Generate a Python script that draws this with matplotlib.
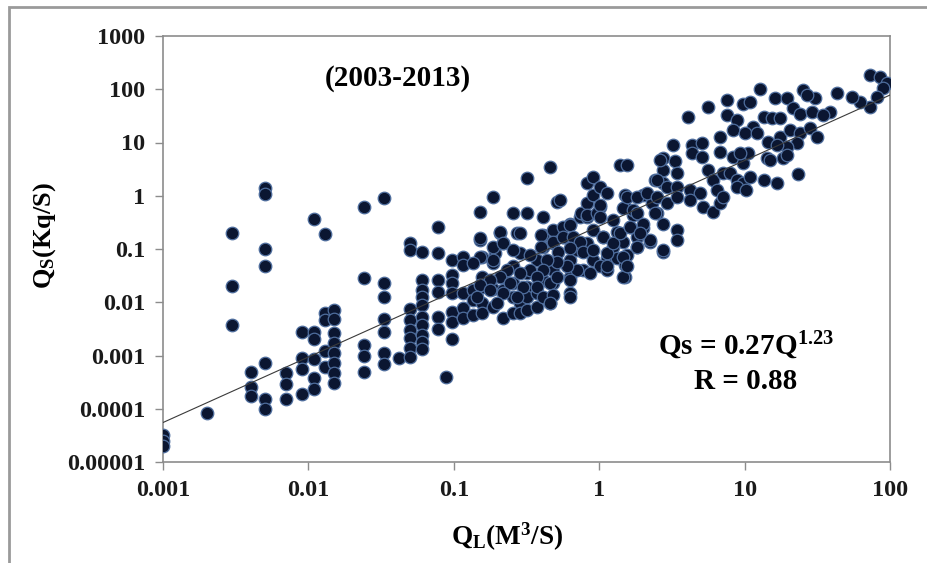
import matplotlib

matplotlib.use("Agg")
import matplotlib.pyplot as plt
import numpy as np
from matplotlib.patches import Rectangle

# sediment rating data, 2003-2013: liquid discharge Q_L (m3/s) vs solid discharge Q_S
qL_low = [0.001, 0.001, 0.001, 0.002, 0.003, 0.003, 0.003, 0.004, 0.004, 0.004,
          0.005, 0.005, 0.005, 0.005, 0.005, 0.005, 0.005, 0.007, 0.007, 0.007,
          0.009, 0.009, 0.009, 0.009, 0.011, 0.011, 0.011, 0.011, 0.011, 0.011,
          0.013, 0.013, 0.013, 0.013, 0.013,
          0.015, 0.015, 0.015, 0.015, 0.015, 0.015, 0.015, 0.015,
          0.024, 0.024, 0.024, 0.024, 0.024,
          0.033, 0.033, 0.033, 0.033, 0.033, 0.033, 0.033, 0.042,
          0.05, 0.05, 0.05, 0.05, 0.05, 0.05, 0.05, 0.05,
          0.06, 0.06, 0.06, 0.06, 0.06, 0.06, 0.06, 0.06, 0.06, 0.06,
          0.078, 0.078, 0.078, 0.078, 0.078, 0.078, 0.089,
          0.097, 0.097, 0.097, 0.097, 0.097, 0.097, 0.097]
qS_low = [3.2e-5, 2.5e-5, 2.0e-5, 8.2e-5, 0.2, 0.02, 0.0037, 5e-4, 2.6e-4, 1.7e-4,
          1.4, 1.1, 0.1, 0.048, 7.3e-4, 1.5e-4, 1.0e-4, 4.6e-4, 2.9e-4, 1.5e-4,
          0.0028, 8.9e-4, 5.5e-4, 1.9e-4, 0.36, 0.0028, 0.002, 8.5e-4, 3.8e-4, 2.4e-4,
          0.19, 0.0062, 0.0047, 0.0012, 6e-4,
          0.0071, 0.0048, 0.0027, 0.0017, 0.0011, 7.1e-4, 4.6e-4, 3e-4,
          0.62, 0.029, 0.0016, 0.001, 5e-4,
          0.89, 0.023, 0.0127, 0.0048, 0.0028, 0.0011, 6.9e-4, 8.9e-4,
          0.13, 0.096, 0.0074, 0.0046, 0.003, 0.0021, 0.0014, 9.5e-4,
          0.089, 0.026, 0.017, 0.0127, 0.0089, 0.0054, 0.0037, 0.0024, 0.0018, 0.0013,
          0.26, 0.083, 0.026, 0.0158, 0.0054, 0.0032, 4e-4,
          0.062, 0.033, 0.023, 0.0147, 0.0067, 0.0043, 0.002]

qL_mid = [0.116, 0.116, 0.116, 0.116, 0.116, 0.136, 0.136, 0.136, 0.151, 0.151,
          0.156, 0.156, 0.156, 0.156, 0.156, 0.187, 0.187, 0.187, 0.187, 0.192,
          0.208, 0.219, 0.219, 0.219, 0.219, 0.257, 0.257, 0.257, 0.257, 0.257,
          0.271, 0.285, 0.285, 0.285, 0.317, 0.317, 0.317, 0.317, 0.317, 0.317,
          0.372, 0.372, 0.372, 0.413, 0.413, 0.413, 0.413, 0.459, 0.459,
          0.483, 0.483, 0.483, 0.51, 0.51, 0.537, 0.566, 0.63, 0.63, 0.63, 0.63,
          0.70, 0.738, 0.75, 0.778, 0.82, 0.82, 0.82, 0.82, 0.91, 0.91, 0.91, 0.91]
qS_mid = [0.072, 0.05, 0.0147, 0.0077, 0.005, 0.017, 0.011, 0.0058, 0.5, 0.148,
          0.072, 0.030, 0.0196, 0.0096, 0.0062, 0.96, 0.054, 0.018, 0.0083, 0.083,
          0.197, 0.128, 0.030, 0.017, 0.005, 0.47, 0.047, 0.023, 0.0127, 0.0062,
          0.197, 0.083, 0.0096, 0.0062, 2.13, 0.47, 0.035, 0.0196, 0.0127, 0.0072,
          0.062, 0.0147, 0.0083, 0.40, 0.183, 0.11, 0.026, 3.5, 0.0096,
          0.128, 0.040, 0.023, 0.77, 0.197, 0.83, 0.17, 0.30, 0.062, 0.030, 0.0147,
          0.096, 0.40, 0.47, 0.040, 1.71, 0.72, 0.40, 0.128, 2.28, 1.03, 0.227, 0.062]

# dense band along the fit line, 0.13 - 3 m3/s
qL_core = [0.40, 0.483, 0.566, 0.63, 0.40, 0.483, 0.566, 0.663, 0.738, 0.523,
           0.63, 0.778, 0.91, 1.07, 1.32, 1.63, 1.46, 1.81, 2.01, 2.24, 2.76,
           1.25, 1.81, 1.55, 1.13, 1.32, 1.01, 1.50, 1.13, 1.50, 0.86, 0.70,
           0.60, 0.51, 0.435, 0.413, 0.334, 0.372, 0.285, 0.231, 0.208, 0.177,
           0.151, 0.244, 0.30, 0.372, 0.459, 0.51, 0.63, 0.413, 0.483, 0.63,
           0.271, 0.219, 0.177, 0.144, 0.197, 0.459,
           0.208, 0.285, 0.151, 0.187, 0.219, 0.257, 0.151, 0.187, 0.136, 0.334,
           0.82, 1.01, 0.97, 1.50, 1.50, 1.72, 2.01, 2.30, 2.48, 2.76, 2.42]
qS_core = [0.183, 0.227, 0.26, 0.28, 0.11, 0.137, 0.17, 0.17, 0.137, 0.089,
           0.103, 0.089, 0.096, 0.17, 0.21, 0.26, 0.137, 0.17, 0.245, 0.137, 0.089,
           0.11, 0.11, 0.077, 0.067, 0.067, 0.047, 0.05, 0.040, 0.030, 0.035, 0.040,
           0.047, 0.058, 0.062, 0.040, 0.040, 0.030, 0.035, 0.040, 0.030, 0.026,
           0.021, 0.023, 0.0196, 0.0196, 0.023, 0.030, 0.026, 0.0127, 0.0137, 0.0127,
           0.0127, 0.0147, 0.017, 0.0127, 0.0096, 0.0096,
           0.21, 0.197, 0.159, 0.11, 0.128, 0.096, 0.072, 0.062, 0.054, 0.077,
           0.43, 0.62, 0.47, 1.03, 0.62, 0.43, 1.03, 0.72, 0.47, 1.71, 1.98]

qL_high = [1.01, 1.01, 1.01, 1.07, 1.13, 1.13, 1.13, 1.25, 1.25, 1.39, 1.39,
           1.46, 1.46, 1.46, 1.55, 1.55, 1.55, 1.63, 1.72,
           73, 85, 95, 90, 81, 73, 62, 54.5, 43, 38.6, 12.8, 5.62, 4.11,
           7.53, 9.8, 10.9, 16.2, 19.5, 25.3, 30.5, 26.7,
           7.53, 8.83, 11.5, 13.5, 15.4, 17.5, 21.6, 24.0, 28.9, 34.8,
           6.78, 8.36, 10.1, 12.1, 14.6, 17.5, 20.5, 24.0, 28.2, 31.3, 22.8, 19.5, 16.6,
           3.24, 4.32, 5.07, 4.32, 5.07, 6.78, 5.62, 8.36, 9.8, 10.6, 14.2, 15.0,
           18.5, 19.5, 23.4,
           2.76, 3.32, 2.76, 3.41, 2.48, 2.91, 3.41, 4.21, 4.93, 6.1, 6.43, 7.13,
           7.94, 8.83, 9.8, 10.9, 13.5, 16.6,
           1.81, 2.12, 2.48, 2.91, 3.41, 4.21, 5.2, 6.1, 6.78, 8.83, 10.3,
           1.81, 2.01, 2.42, 2.76, 3.41, 3.41, 2.24, 1.91, 2.76, 1.81,
           2.6, 7.1, 9.3]
qS_high = [0.67, 0.40, 1.48, 0.17, 1.11, 0.083, 0.047, 0.35, 0.128, 0.197, 3.7,
           0.58, 0.072, 0.030, 0.96, 0.047, 3.7, 0.26, 0.54,
           185, 172, 129, 104, 72, 47, 58, 72, 84, 38, 100, 47, 30.5,
           63, 54, 58, 68, 68, 97, 68, 78,
           33, 26.5, 19.8, 30.5, 28.5, 28.5, 44, 35, 38, 33,
           12.9, 17.2, 14.9, 14.9, 10.4, 12.9, 17.2, 14.9, 18.5, 12.9, 9.7, 8.3, 9.0,
           9.0, 9.0, 9.7, 6.3, 5.4, 6.7, 3.05, 5.4, 4.07, 6.3, 5.05, 4.7,
           5.05, 5.8, 2.56,
           5.05, 4.4, 3.05, 2.64, 1.98, 1.48, 1.48, 1.28, 1.11, 1.98, 1.28, 2.64,
           2.64, 1.98, 1.71, 2.28, 1.98, 1.71,
           0.96, 1.11, 0.96, 0.72, 0.96, 0.83, 0.62, 0.50, 0.72, 1.48, 1.28,
           0.47, 0.30, 0.47, 0.30, 0.227, 0.148, 0.148, 0.197, 0.096, 0.11,
           4.7, 0.96, 6.3]

# power-law fit Qs = a * Q^b
fit_a = 0.27
fit_b = 1.23
fit_r = 0.88
fit_range = [0.001, 100]

x_ticks = [0.001, 0.01, 0.1, 1, 10, 100]
x_tick_labels = ["0.001", "0.01", "0.1", "1", "10", "100"]
y_ticks = [1e-5, 1e-4, 1e-3, 1e-2, 1e-1, 1, 10, 100, 1000]
y_tick_labels = ["0.00001", "0.0001", "0.001", "0.01", "0.1", "1", "10", "100", "1000"]

plt.rcParams["font.family"] = ["Liberation Serif", "DejaVu Serif"]
plt.rcParams["font.weight"] = "bold"
plt.rcParams["mathtext.default"] = "regular"

W, H = 928, 563
fig = plt.figure(figsize=(W / 100, H / 100), dpi=100)
ax = fig.add_axes([163 / W, 1 - 462 / H, (890 - 163) / W, (462 - 36) / H])

qL = np.concatenate([qL_low, qL_mid, qL_core, qL_high])
qS = np.concatenate([qS_low, qS_mid, qS_core, qS_high])
ax.scatter(qL, qS, s=82, facecolor="#0b1631", edgecolor="#4f6e9e",
           linewidth=0.9, zorder=3)

xf = np.array(fit_range)
ax.plot(xf, fit_a * xf ** fit_b, color="#3a3a3a", lw=0.8, zorder=4)

ax.set_xscale("log")
ax.set_yscale("log")
ax.set_xlim(0.001, 100)
ax.set_ylim(1e-5, 1000)
ax.set_xticks(x_ticks)
ax.set_xticklabels(x_tick_labels)
ax.set_yticks(y_ticks)
ax.set_yticklabels(y_tick_labels)
ax.minorticks_off()
ax.tick_params(axis="both", direction="out", length=6, width=1, color="#8c8c8c",
               labelsize=17.5, labelcolor="#1a1a1a", pad=7)
for sp in ax.spines.values():
    sp.set_color("#8c8c8c")
    sp.set_linewidth(1.2)

ax.text(0.323, 0.9, "(2003-2013)", transform=ax.transAxes, ha="center",
        va="center", fontsize=21, fontweight="bold")
ax.text(0.802, 0.272, f"Qs = {fit_a}Q$^{{{fit_b}}}$", transform=ax.transAxes,
        ha="center", va="center", fontsize=21, fontweight="bold")
ax.text(0.802, 0.188, f"R = {fit_r}", transform=ax.transAxes, ha="center",
        va="center", fontsize=21, fontweight="bold")

fig.text(507 / W, 1 - 537 / H, "Q$_L$(M$^3$/S)", ha="center", va="center",
         fontsize=19.5, fontweight="bold")
fig.text(45 / W, 1 - 235 / H, "Q$_S$(Kq/S)", ha="center", va="center",
         rotation=90, fontsize=19, fontweight="bold")

# outer chart frame
fig.add_artist(Rectangle((9 / W, -0.1), 1.2, 1.1 - 7 / H, transform=fig.transFigure,
                         fill=False, edgecolor="#9a9a9a", linewidth=2))

fig.savefig("out.png", dpi=100)
